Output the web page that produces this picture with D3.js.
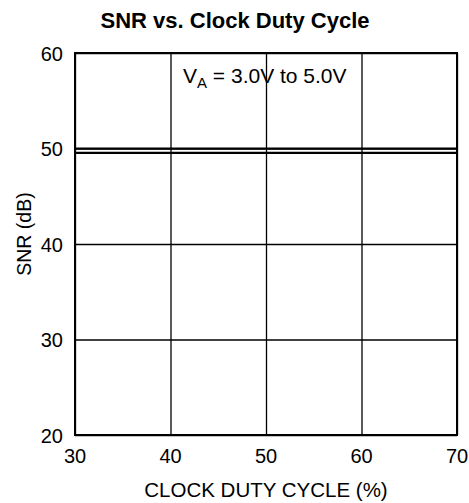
<!DOCTYPE html>
<html>
<head>
<meta charset="utf-8">
<script src="https://cdn.jsdelivr.net/npm/d3@7"></script>
<style>
  body { margin: 0; background: white; }
  text { font-family: "Liberation Sans", Arial, sans-serif; fill: black; }
</style>
</head>
<body>
<main></main>
<script>
// chart values
const dutyCycle = [30, 70];
const snrLow = [49.55, 49.55];
const snrHigh = [50.0, 50.0];
const xTicks = [30, 40, 50, 60, 70];
const yTicks = [20, 30, 40, 50, 60];

const WIDTH = 469, HEIGHT = 503;
const margin = {top: 53, right: 12, bottom: 68, left: 75};

var svg = d3.select("main").append("svg")
            .attr("width", WIDTH)
            .attr("height", HEIGHT);

var x = d3.scaleLinear().domain([30, 70]).range([margin.left, WIDTH - margin.right]);
var y = d3.scaleLinear().domain([20, 60]).range([HEIGHT - margin.bottom, margin.top]);

// Grid lines
svg.append("g")
   .attr("transform", "translate(0," + (HEIGHT - margin.bottom) + ")")
   .call(d3.axisBottom(x).tickValues(xTicks).tickSize(-(HEIGHT - margin.top - margin.bottom)).tickFormat(""))
   .call(g => g.select(".domain").remove())
   .call(g => g.selectAll("line").attr("stroke", "black").attr("stroke-width", 1.3));

svg.append("g")
   .attr("transform", "translate(" + margin.left + ",0)")
   .call(d3.axisLeft(y).tickValues(yTicks).tickSize(-(WIDTH - margin.left - margin.right)).tickFormat(""))
   .call(g => g.select(".domain").remove())
   .call(g => g.selectAll("line").attr("stroke", "black").attr("stroke-width", 1.3));

// Frame
svg.append("rect")
   .attr("x", margin.left)
   .attr("y", margin.top)
   .attr("width", WIDTH - margin.left - margin.right)
   .attr("height", HEIGHT - margin.top - margin.bottom)
   .attr("fill", "none")
   .attr("stroke", "black")
   .attr("stroke-width", 2);

// Tick labels
svg.selectAll(".xlab").data(xTicks).enter().append("text")
   .attr("x", d => x(d))
   .attr("y", HEIGHT - margin.bottom + 28)
   .attr("text-anchor", "middle")
   .style("font-size", "20px")
   .text(d => d);

svg.selectAll(".ylab").data(yTicks).enter().append("text")
   .attr("x", margin.left - 12)
   .attr("y", d => y(d) + 7.5)
   .attr("text-anchor", "end")
   .style("font-size", "20px")
   .text(d => d);

// Data lines
var line = d3.line().x((d, i) => x(dutyCycle[i])).y(d => y(d));
[snrHigh, snrLow].forEach(function (s) {
    svg.append("path")
       .datum(s)
       .attr("d", line)
       .attr("fill", "none")
       .attr("stroke", "black")
       .attr("stroke-width", 2.2);
});

// Annotation
var note = svg.append("text")
              .attr("x", 183)
              .attr("y", 82.5)
              .style("font-size", "21px");
note.append("tspan").text("V");
note.append("tspan").attr("dy", 5.5).style("font-size", "15px").text("A");
note.append("tspan").attr("dy", -5.5).text(" = 3.0V to 5.0V");

// Titles
svg.append("text")
   .attr("x", 235)
   .attr("y", 28)
   .attr("text-anchor", "middle")
   .style("font-size", "22px")
   .style("font-weight", "bold")
   .text("SNR vs. Clock Duty Cycle");

svg.append("text")
   .attr("x", 266)
   .attr("y", 497)
   .attr("text-anchor", "middle")
   .style("font-size", "20.5px")
   .text("CLOCK DUTY CYCLE (%)");

svg.append("text")
   .attr("transform", "translate(31,234) rotate(-90)")
   .attr("text-anchor", "middle")
   .style("font-size", "19.5px")
   .text("SNR (dB)");
</script>
</body>
</html>
